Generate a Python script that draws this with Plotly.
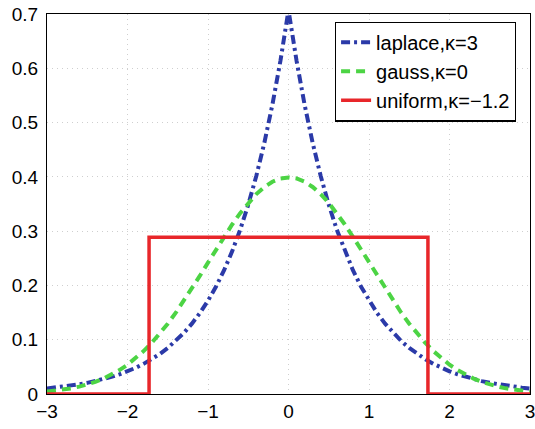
import plotly.graph_objects as go

x_vals = [round(-3 + 0.1 * i, 1) for i in range(61)]

laplace_y = [0.0102, 0.0117, 0.0135, 0.0155, 0.0179, 0.0206, 0.0237, 0.0273, 0.0315, 0.0363,
             0.0418, 0.0481, 0.0555, 0.0639, 0.0736, 0.0848, 0.0976, 0.1125, 0.1296, 0.1492,
             0.1719, 0.1980, 0.2281, 0.2628, 0.3027, 0.3487, 0.4016, 0.4626, 0.5329, 0.6139,
             0.7071,
             0.6139, 0.5329, 0.4626, 0.4016, 0.3487, 0.3027, 0.2628, 0.2281, 0.1980, 0.1719,
             0.1492, 0.1296, 0.1125, 0.0976, 0.0848, 0.0736, 0.0639, 0.0555, 0.0481, 0.0418,
             0.0363, 0.0315, 0.0273, 0.0237, 0.0206, 0.0179, 0.0155, 0.0135, 0.0117, 0.0102]

gauss_y = [0.0044, 0.0060, 0.0079, 0.0104, 0.0136, 0.0175, 0.0224, 0.0283, 0.0355, 0.0440,
           0.0540, 0.0656, 0.0790, 0.0940, 0.1109, 0.1295, 0.1497, 0.1714, 0.1942, 0.2179,
           0.2420, 0.2661, 0.2897, 0.3123, 0.3332, 0.3521, 0.3683, 0.3814, 0.3910, 0.3970,
           0.3989,
           0.3970, 0.3910, 0.3814, 0.3683, 0.3521, 0.3332, 0.3123, 0.2897, 0.2661, 0.2420,
           0.2179, 0.1942, 0.1714, 0.1497, 0.1295, 0.1109, 0.0940, 0.0790, 0.0656, 0.0540,
           0.0440, 0.0355, 0.0283, 0.0224, 0.0175, 0.0136, 0.0104, 0.0079, 0.0060, 0.0044]

uniform_x = [-3, -1.732, -1.732, 1.732, 1.732, 3]
uniform_y = [0, 0, 0.2887, 0.2887, 0, 0]

x_ticks = [-3, -2, -1, 0, 1, 2, 3]
y_ticks = [0, 0.1, 0.2, 0.3, 0.4, 0.5, 0.6, 0.7]

fig = go.Figure()
fig.add_trace(go.Scatter(x=x_vals, y=laplace_y, mode="lines", name="laplace,κ=3",
                         line=dict(color="#2b3aa8", width=4, dash="9px,4px,3px,4px")))
fig.add_trace(go.Scatter(x=x_vals, y=gauss_y, mode="lines", name="gauss,κ=0",
                         line=dict(color="#4cd444", width=4, dash="9px,6px")))
fig.add_trace(go.Scatter(x=uniform_x, y=uniform_y, mode="lines", name="uniform,κ=−1.2",
                         line=dict(color="#e8262a", width=3.5)))

axis_common = dict(showline=True, linecolor="black", linewidth=1.2, mirror=True,
                   showgrid=True, gridcolor="#cfcfcf", griddash="1px,4px", gridwidth=1,
                   zeroline=False, ticks="", layer="below traces", automargin=False,
                   ticklabeloverflow="allow",
                   tickfont=dict(family="Liberation Sans, Arial, sans-serif", size=19, color="black"))

fig.update_layout(
    width=535, height=429,
    margin=dict(l=47, r=5, t=14, b=35),
    paper_bgcolor="white", plot_bgcolor="white",
    xaxis=dict(range=[-3, 3], tickvals=x_ticks, **axis_common),
    yaxis=dict(range=[0, 0.7], tickvals=y_ticks, ticklabelstandoff=4, **axis_common),
    legend=dict(x=0.596, y=0.98, xanchor="left", yanchor="top",
                bgcolor="white", bordercolor="black", borderwidth=1.2,
                font=dict(family="Liberation Sans, Arial, sans-serif", size=20, color="black"),
                tracegroupgap=0, itemwidth=30),
    showlegend=True,
)

fig.write_html("out.html", config={"displayModeBar": False},
               post_script="document.body.style.margin='0';")
